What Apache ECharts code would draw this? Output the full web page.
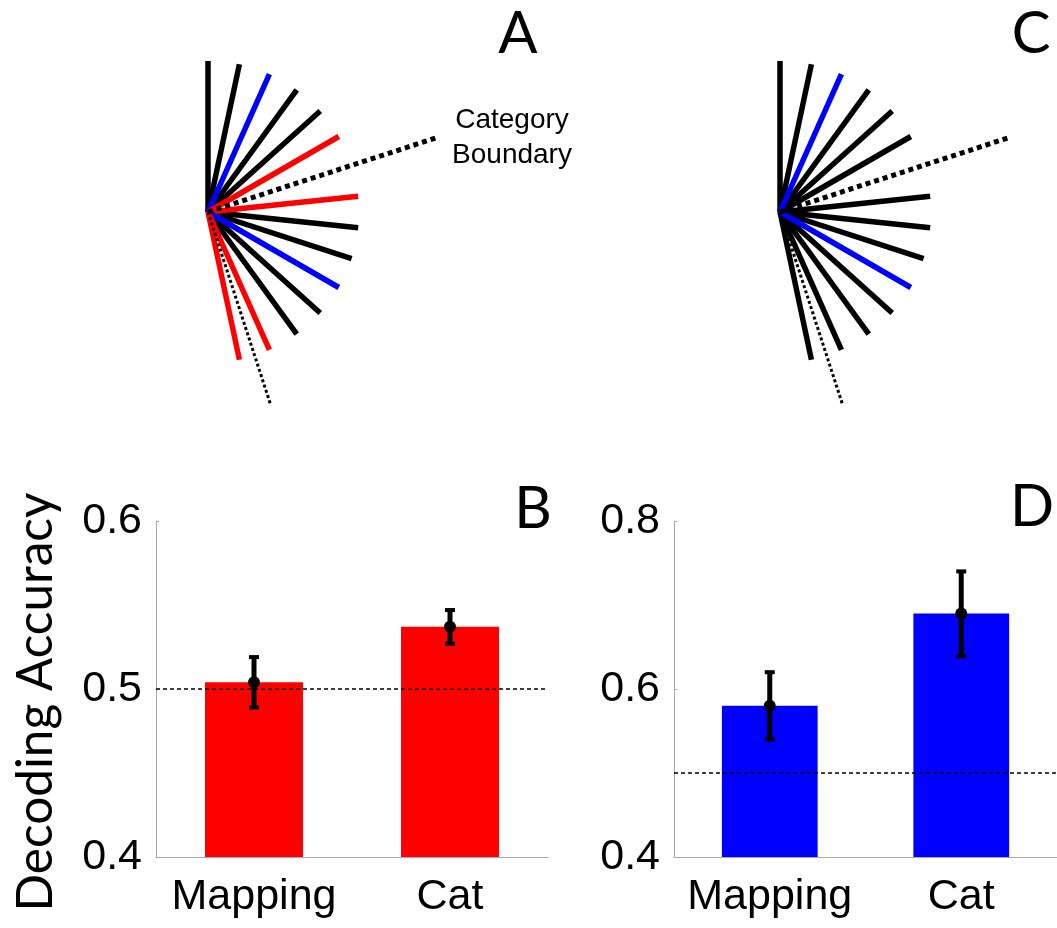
<!DOCTYPE html>
<html>
<head>
<meta charset="utf-8">
<script src="https://cdn.jsdelivr.net/npm/echarts@6/dist/echarts.min.js"></script>
<style>
  html, body { margin: 0; padding: 0; background: #fff; }
  #chart { width: 1057px; height: 928px; }
</style>
</head>
<body>
<div id="chart"></div>
<script>
// ---------------- DATA ----------------
// Orientation fans (panels A and C): line orientations in degrees
const orientations = [90, 78, 66, 54, 42, 30, 6, -6, -18, -30, -42, -54, -66, -78];
// role of each orientation in panel A and panel C
const rolesA = ['other', 'other', 'mapping', 'other', 'other', 'category', 'category',
                'other', 'other', 'mapping', 'other', 'other', 'category', 'category'];
const rolesC = ['other', 'other', 'mapping', 'other', 'other', 'other', 'other',
                'other', 'other', 'mapping', 'other', 'other', 'other', 'other'];
// category boundary orientations (degrees)
const boundaries = [18, -72];

// Bar panels (B and D)
const categories = ['Mapping', 'Cat'];
const meanB = [0.504, 0.537];
const lowB  = [0.489, 0.527];
const highB = [0.519, 0.547];
const meanD = [0.580, 0.690];
const lowD  = [0.540, 0.639];
const highD = [0.620, 0.740];
const chanceLevel = 0.5;
const yTicksB = [0.4, 0.5, 0.6];
const yTicksD = [0.4, 0.6, 0.8];

const panelLetters = ['A', 'B', 'C', 'D'];
const yTitle = 'Decoding Accuracy';
const boundaryLabel = ['Category', 'Boundary'];

// ---------------- STYLE / LAYOUT ----------------
const roleColor = { other: '#000000', mapping: '#0000ff', category: '#ff0000' };
const stimLen = 151;
const boundaryLen = [239, 203];
const boundaryStyle = [
  { width: 5, type: [5, 4] },
  { width: 3, type: [3, 2.5] }
];
const tickFont = 'Liberation Sans, Arial, sans-serif';
const letterFont = 'Lato, sans-serif';

const chart = echarts.init(document.getElementById('chart'), null, { renderer: 'canvas' });

const series = [];
function addFan(polarIndex, roles) {
  orientations.forEach(function (deg, i) {
    series.push({
      type: 'line', coordinateSystem: 'polar', polarIndex: polarIndex,
      data: [[0, deg], [stimLen, deg]],
      symbol: 'none', silent: true, animation: false,
      lineStyle: { color: roleColor[roles[i]], width: 5.5, cap: 'butt' },
      z: roles[i] === 'other' ? 2 : 3
    });
  });
  boundaries.forEach(function (deg, i) {
    series.push({
      type: 'line', coordinateSystem: 'polar', polarIndex: polarIndex,
      data: [[0, deg], [boundaryLen[i], deg]],
      symbol: 'none', silent: true, animation: false,
      lineStyle: { color: '#000', width: boundaryStyle[i].width, type: boundaryStyle[i].type, cap: 'butt' },
      z: 4
    });
  });
}
addFan(0, rolesA);
addFan(1, rolesC);

function barPanel(gridIndex, means, lows, highs, color) {
  series.push({
    type: 'bar', xAxisIndex: gridIndex, yAxisIndex: gridIndex,
    data: means, barWidth: '50%', animation: false, silent: true,
    itemStyle: { color: color },
    markLine: {
      silent: true, symbol: ['none', 'none'], animation: false,
      label: { show: false },
      lineStyle: { color: '#000', width: 1.5, type: [4, 3] },
      data: [{ yAxis: chanceLevel }]
    },
    z: 2
  });
  series.push({
    type: 'custom', xAxisIndex: gridIndex, yAxisIndex: gridIndex,
    data: means.map(function (m, i) { return [i, lows[i], highs[i], m]; }),
    animation: false, silent: true, z: 10,
    renderItem: function (params, api) {
      const x = api.value(0);
      const pLow = api.coord([x, api.value(1)]);
      const pHigh = api.coord([x, api.value(2)]);
      const pMean = api.coord([x, api.value(3)]);
      const capW = 5;
      return {
        type: 'group',
        children: [
          { type: 'line', shape: { x1: pLow[0], y1: pLow[1], x2: pHigh[0], y2: pHigh[1] },
            style: { stroke: '#000', lineWidth: 5 } },
          { type: 'line', shape: { x1: pLow[0] - capW, y1: pLow[1], x2: pLow[0] + capW, y2: pLow[1] },
            style: { stroke: '#000', lineWidth: 4 } },
          { type: 'line', shape: { x1: pHigh[0] - capW, y1: pHigh[1], x2: pHigh[0] + capW, y2: pHigh[1] },
            style: { stroke: '#000', lineWidth: 4 } },
          { type: 'circle', shape: { cx: pMean[0], cy: pMean[1], r: 6 },
            style: { fill: '#000' } }
        ]
      };
    }
  });
}
barPanel(0, meanB, lowB, highB, '#ff0000');
barPanel(1, meanD, lowD, highD, '#0000ff');

function yAxisFor(gridIndex, ticks) {
  return {
    type: 'value', gridIndex: gridIndex,
    min: ticks[0], max: ticks[ticks.length - 1], interval: ticks[1] - ticks[0],
    axisLine: { show: true, lineStyle: { color: '#a8a8a8', width: 1 } },
    axisTick: { show: true, inside: true, length: 3, lineStyle: { color: '#a8a8a8' } },
    splitLine: { show: false },
    axisLabel: {
      fontSize: 43, fontFamily: tickFont, color: '#000', margin: 14,
      padding: [10, 0, 0, 0],
      formatter: function (v) { return String(+v.toFixed(2)); }
    }
  };
}
function xAxisFor(gridIndex) {
  return {
    type: 'category', gridIndex: gridIndex, data: categories, boundaryGap: true,
    axisLine: { show: true, lineStyle: { color: '#a8a8a8', width: 1 } },
    axisTick: { show: false },
    axisLabel: { fontSize: 43, fontFamily: tickFont, color: '#000', margin: 19, interval: 0 }
  };
}

const graphics = [
  { type: 'text', x: 518, y: 34, style: { text: panelLetters[0], font: '58px ' + letterFont, fill: '#000', align: 'center', verticalAlign: 'middle' } },
  { type: 'text', x: 533, y: 509, style: { text: panelLetters[1], font: '58px ' + letterFont, fill: '#000', align: 'center', verticalAlign: 'middle' } },
  { type: 'text', x: 1031, y: 34, style: { text: panelLetters[2], font: '58px ' + letterFont, fill: '#000', align: 'center', verticalAlign: 'middle' } },
  { type: 'text', x: 1032, y: 507, style: { text: panelLetters[3], font: '58px ' + letterFont, fill: '#000', align: 'center', verticalAlign: 'middle' } },
  { type: 'text', x: 512, y: 120, style: { text: boundaryLabel[0], font: '28px ' + tickFont, fill: '#000', align: 'center', verticalAlign: 'middle' } },
  { type: 'text', x: 512, y: 155, style: { text: boundaryLabel[1], font: '28px ' + tickFont, fill: '#000', align: 'center', verticalAlign: 'middle' } },
  { type: 'text', x: 36, y: 702, rotation: Math.PI / 2, style: { text: yTitle, font: '49.5px ' + letterFont, fill: '#000', align: 'center', verticalAlign: 'middle' } }
];

const option = {
  animation: false,
  backgroundColor: '#ffffff',
  polar: [
    { center: [208, 212], radius: 240 },
    { center: [780, 212], radius: 240 }
  ],
  angleAxis: [
    { polarIndex: 0, type: 'value', min: -180, max: 180, startAngle: 180, clockwise: false, show: false },
    { polarIndex: 1, type: 'value', min: -180, max: 180, startAngle: 180, clockwise: false, show: false }
  ],
  radiusAxis: [
    { polarIndex: 0, type: 'value', min: 0, max: 240, show: false },
    { polarIndex: 1, type: 'value', min: 0, max: 240, show: false }
  ],
  grid: [
    { left: 156, top: 521, width: 392, height: 336 },
    { left: 674, top: 521, width: 393, height: 336 }
  ],
  xAxis: [xAxisFor(0), xAxisFor(1)],
  yAxis: [yAxisFor(0, yTicksB), yAxisFor(1, yTicksD)],
  graphic: graphics,
  series: series
};
chart.setOption(option);
</script>
</body>
</html>
